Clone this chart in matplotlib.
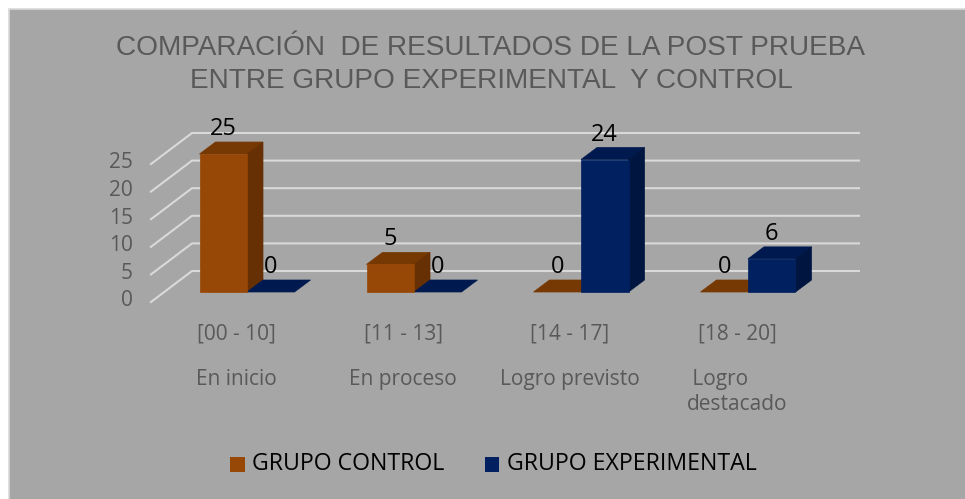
import matplotlib
matplotlib.use("Agg")
import matplotlib.pyplot as plt
from matplotlib.patches import Polygon, Rectangle

W, H = 965, 499
TITLE = "COMPARACIÓN  DE RESULTADOS DE LA POST PRUEBA\nENTRE GRUPO EXPERIMENTAL  Y CONTROL"
rangos = ["[00 - 10]", "[11 - 13]", "[14 - 17]", "[18 - 20]"]
niveles = ["En inicio", "En proceso", "Logro previsto", " Logro\ndestacado"]
series = ["GRUPO CONTROL", "GRUPO EXPERIMENTAL"]
control = [25, 5, 0, 0]
experimental = [0, 0, 24, 6]
yticks = [0, 5, 10, 15, 20, 25]

BG = "#a6a6a6"
GRID = "#d9d9d9"
GREY = "#595959"
C_FRONT, C_SIDE, C_TOP = "#974706", "#663004", "#773903"
E_FRONT, E_SIDE, E_TOP = "#002060", "#001540", "#001a50"
LBL = "Open Sans"

PX_X, PX_Y = 167.0, 5.52
X0, Y0 = 247.0, 292.0
DX, DY = 16 / PX_X, 12 / PX_Y          # bar depth
WX, WY = 41 / PX_X, 31 / PX_Y          # wall depth
BW = 47.5 / PX_X
WALL_Y = -10 / PX_Y

fig = plt.figure(figsize=(W / 100, H / 100), dpi=100, facecolor="white")
ax = fig.add_axes([0, 0, 1, 1])
ax.set_xlim(-X0 / PX_X, (W - X0) / PX_X)
ax.set_ylim((Y0 - H) / PX_Y, Y0 / PX_Y)
ax.axis("off")
ax.add_patch(Rectangle((-(X0 - 9) / PX_X, (Y0 - 510) / PX_Y), 970 / PX_X, 501 / PX_Y,
                       fc=BG, ec="#d9d9d9", lw=1.2, zorder=0))

xl = -96 / PX_X
xr = 612 / PX_X
for t in yticks:
    y = WALL_Y + t
    ax.plot([xl, xl + WX, xr], [y, y + WY, y + WY], color=GRID, lw=1.5, zorder=1,
            solid_joinstyle="miter")
    ax.text(xl - 18 / PX_X, y + 1 / PX_Y, str(t), ha="right", va="center",
            fontsize=15, color=GREY, family=LBL)


def bar3d(x, v, front, side, top):
    y = v
    ax.add_patch(Polygon([(x, y), (x + DX, y + DY), (x + BW + DX, y + DY), (x + BW, y)],
                         fc=top, ec=top, lw=0.5, zorder=3))
    if v > 0:
        ax.add_patch(Polygon([(x + BW, 0), (x + BW + DX, DY), (x + BW + DX, y + DY), (x + BW, y)],
                             fc=side, ec=side, lw=0.5, zorder=3))
        ax.add_patch(Rectangle((x, 0), BW, v, fc=front, ec=front, lw=0.5, zorder=4))


for i in range(len(rangos)):
    bar3d(i - BW, control[i], C_FRONT, C_SIDE, C_TOP)
    bar3d(i, experimental[i], E_FRONT, E_SIDE, E_TOP)
    for off, v in ((-BW, control[i]), (0, experimental[i])):
        ax.text(i + off + BW / 2, v + 13 / PX_Y, str(v), ha="center", va="bottom",
                fontsize=17, color="black", family=LBL, zorder=5)
    ax.text(i - 11 / PX_X, -42 / PX_Y, rangos[i], ha="center", va="center",
            fontsize=15, color=GREY, family=LBL)
    ax.text(i - 11 / PX_X, -77 / PX_Y, niveles[i], ha="center", va="top", multialignment="left",
            fontsize=15, color=GREY, family=LBL, linespacing=1.25)

ax.text((491 - X0) / PX_X, (Y0 - 64.5) / PX_Y, TITLE, ha="center", va="center", fontsize=20.2,
        color=GREY, family="Liberation Sans", linespacing=1.32)

# legend
for sx, tx, c, s in ((230, 252, C_FRONT, series[0]), (485, 507, E_FRONT, series[1])):
    ax.add_patch(Rectangle(((sx - X0) / PX_X, (Y0 - 472) / PX_Y), 14.5 / PX_X, 15 / PX_Y,
                           fc=c, ec="none"))
    ax.text((tx - X0) / PX_X, (Y0 - 464) / PX_Y, s, ha="left", va="center",
            fontsize=16.7, color="black", family=LBL)

fig.savefig("out.png", dpi=100, facecolor="white")
